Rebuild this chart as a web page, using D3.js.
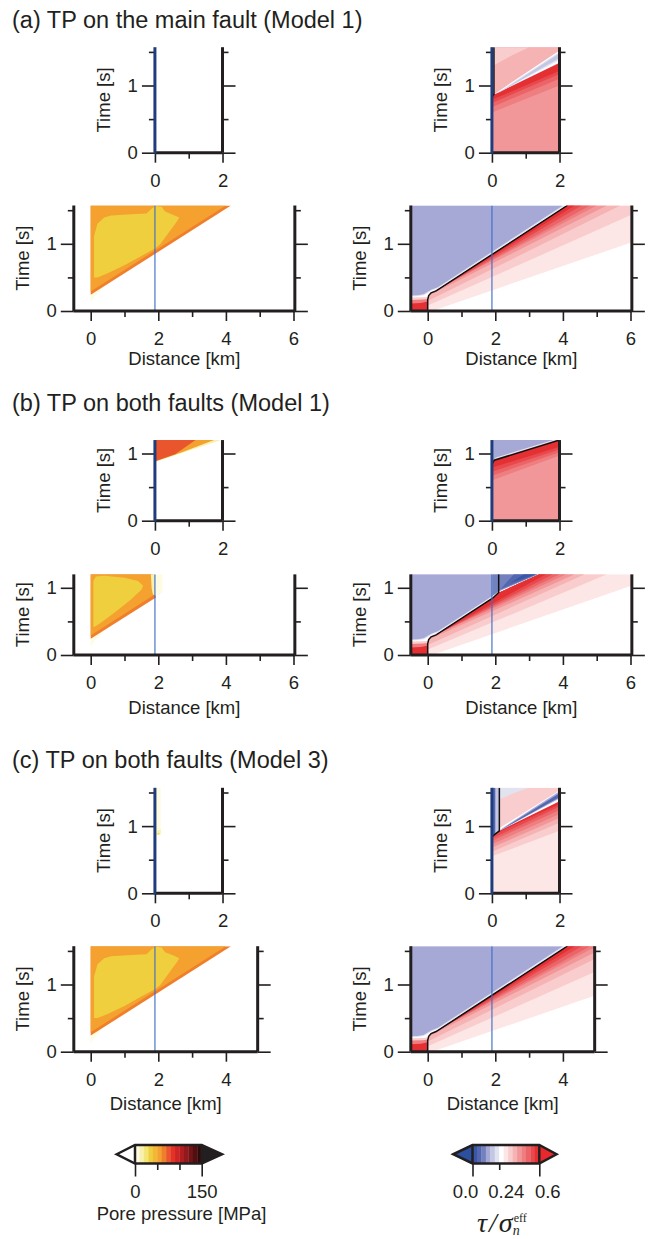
<!DOCTYPE html>
<html>
<head>
<meta charset="utf-8">
<title>TP models</title>
<script src="https://d3js.org/d3.v7.min.js"></script>
<style>
  body { margin: 0; background: #fff; }
  svg text { font-family: "Liberation Sans", Arial, sans-serif; fill: #231f20; }
</style>
</head>
<body>
<script>
// ---- colour levels ----
const ppThresholds = [10, 20, 30, 40, 50, 60, 70, 80, 90, 100, 110, 120, 130, 140];
const ppColors = ['#fdfbe2', '#f8f1ae', '#f3e577', '#efcf3e', '#f2b738', '#f4a12f', '#ef7f2b',
                  '#e9552c', '#e33327', '#cf2424', '#b11e20', '#92191c', '#721416', '#520e10', '#330808'];
const stThresholds = [0.04, 0.08, 0.12, 0.16, 0.2, 0.24, 0.28, 0.32, 0.36, 0.4, 0.44, 0.48, 0.52, 0.56];
const stColors = ['#3a56a5', '#5367b0', '#7481bf', '#a6a9d6', '#c4c7e4', '#e2e3f1', '#ffffff', '#fde6e6',
                  '#f9cdcd', '#f5b3b4', '#f29799', '#ee7e80', '#eb6467', '#e8494d', '#e42f33'];

// ---- ticks ----
const timeMajor = [0, 1];
const timeMinorLong = [0.5, 1.5];
const timeMinorShort = [0.5];
const branchMajor = [0, 2];
const branchMinor = [1];
const mainMajor6 = [0, 2, 4, 6];
const mainMinor6 = [1, 3, 5];
const mainMajor4 = [0, 2, 4];
const mainMinor4 = [1, 3];
const ppBarLong = [0, 150];
const ppBarShort = [50, 100];
const stBarLong = [0.0, 0.6];
const stBarShort = [0.24];

const junction = 1.9; // km, where the branch leaves the main fault

// ---- pore pressure fields [MPa], polygons in (km, s) ----
const ppMainA = [
  {v: 5,  p: [[0, 0.12], [0.08, 0.19], [0.4, 0.37], [0, 0.3]]},
  {v: 65, p: [[0, 0.24], [4.15, 1.57], [0, 1.57]]},
  {v: 55, p: [[0, 0.29], [4.0, 1.57], [0, 1.57]]},
  {v: 35, p: [[0.1, 0.5], [0.1, 1.12], [0.2, 1.3], [0.4, 1.39], [0.6, 1.42], [1.2, 1.44], [1.65, 1.45], [1.8, 1.52],
              [1.9, 1.56], [2.1, 1.55], [2.2, 1.48], [2.45, 1.43], [2.62, 1.39], [2.55, 1.33], [2.3, 1.16],
              [2.05, 0.99], [1.9, 0.93], [1.5, 0.82], [1.0, 0.68], [0.5, 0.56], [0.2, 0.5]]}
];
const ppMainB = [
  {v: 5,  p: [[0, 0.12], [0.08, 0.19], [0.4, 0.37], [0, 0.3]]},
  {v: 65, p: [[0, 0.24], [1.93, 0.855], [1.85, 1.2], [0, 1.2]]},
  {v: 55, p: [[0, 0.29], [1.88, 0.895], [1.8, 1.0], [1.78, 1.2], [0, 1.2]]},
  {v: 15, p: [[1.78, 1.2], [1.9, 1.2], [1.9, 0.89], [1.84, 0.9], [1.8, 1.0]]},
  {v: 5,  p: [[1.9, 1.2], [2.12, 1.2], [2.12, 0.93], [1.9, 0.88]]},
  {v: 35, p: [[0.08, 0.42], [0.08, 1.1], [0.15, 1.17], [0.4, 1.18], [1.0, 1.15], [1.4, 1.1], [1.55, 1.03],
              [1.5, 0.97], [1.2, 0.83], [0.7, 0.63], [0.3, 0.48], [0.12, 0.42]]}
];
const ppMainC = ppMainA;
const ppBranchA = [];
const ppBranchB = [
  {v: 15, p: [[0, 0.875], [1.96, 1.2], [0, 1.2]]},
  {v: 55, p: [[0, 0.88], [0.8, 1.02], [1.75, 1.2], [0, 1.2]]},
  {v: 75, p: [[0, 0.885], [0.6, 0.99], [1.2, 1.2], [0, 1.2]]}
];
const ppBranchC = [
  {v: 5,  p: [[0, 0.87], [0.17, 0.88], [0.17, 1.57], [0, 1.57]]},
  {v: 15, p: [[0.03, 0.87], [0.17, 0.88], [0.17, 0.95], [0.08, 0.94]]},
  {v: 35, p: [[0.05, 0.875], [0.14, 0.88], [0.12, 0.9]]}
];

// ---- stress ratio fields, main fault ----
const stFrontA = [[0, 0], [0, 0.17], [0.03, 0.23], [0.1, 0.27], [0.25, 0.3], [4.13, 1.57]];
// value, start x, start t (on the front), x where the band edge reaches the top
const stBandsA = [
  [0.30, 0.07, -0.01, 9.2], [0.34, 0, 0.08, 6.65], [0.38, 0, 0.15, 5.7], [0.42, 0.03, 0.23, 5.3],
  [0.46, 0.1, 0.27, 5.0], [0.50, 0.18, 0.286, 4.8], [0.54, 0.25, 0.3, 4.55], [0.58, 0.4, 0.349, 4.35]
];
const stFrontB = [[0, 0], [0, 0.17], [0.03, 0.23], [0.1, 0.27], [0.25, 0.3], [1.92, 0.845], [2.12, 0.93], [3.3, 1.2]];
const stLineB = [[0, 0], [0, 0.17], [0.03, 0.23], [0.1, 0.27], [0.25, 0.3], [1.92, 0.845], [2.1, 0.93], [2.1, 1.2]];
const stBandsB = [
  [0.30, 0.07, -0.01, 7.0], [0.34, 0, 0.08, 5.3], [0.38, 0, 0.15, 4.65], [0.42, 0.03, 0.23, 4.35],
  [0.46, 0.1, 0.27, 4.1], [0.50, 0.18, 0.286, 3.9], [0.54, 0.25, 0.3, 3.7], [0.58, 0.4, 0.349, 3.5]
];
const stPatch = [
  {v: 0.34, p: [[-0.5, 0], [0, 0], [0, 0.21], [-0.15, 0.205], [-0.5, 0.2]]},
  {v: 0.46, p: [[-0.5, 0], [0, 0], [0, 0.18], [-0.15, 0.17], [-0.5, 0.165]]},
  {v: 0.58, p: [[-0.5, 0], [0, 0], [0, 0.14], [-0.2, 0.12], [-0.5, 0.11]]}
];
const stLavA = [
  {v: 0.22, p: [[-0.5, 0.215], [-0.3, 0.22], [-0.12, 0.235], [0, 0.265], [0.12, 0.305], [0.3, 0.338], [4.07, 1.57], [-0.5, 1.57]]},
  {v: 0.14, p: [[-0.5, 0.23], [-0.3, 0.235], [-0.12, 0.25], [0, 0.285], [0.12, 0.32], [0.3, 0.355], [4.0, 1.57], [-0.5, 1.57]]}
];
const stLavB = [
  {v: 0.22, p: [[-0.5, 0.215], [-0.3, 0.22], [-0.12, 0.235], [0, 0.265], [0.12, 0.305], [0.3, 0.338], [1.9, 0.86], [1.9, 1.2], [-0.5, 1.2]]},
  {v: 0.14, p: [[-0.5, 0.23], [-0.3, 0.235], [-0.12, 0.25], [0, 0.285], [0.12, 0.32], [0.3, 0.355], [1.9, 0.875], [1.9, 1.2], [-0.5, 1.2]]},
  {v: 0.14, p: [[1.9, 0.875], [2.12, 0.95], [3.28, 1.2], [1.9, 1.2]]},
  {v: 0.10, p: [[1.93, 0.885], [2.12, 0.96], [3.26, 1.2], [1.93, 1.2]]},
  {v: 0.06, p: [[2.15, 0.98], [3.24, 1.2], [2.55, 1.2]]},
  {v: 0.02, p: [[2.45, 1.07], [3.2, 1.2], [2.85, 1.2]]}
];

// ---- stress ratio fields, branch ----
const stBranchA = [
  {v: 0.42, p: [[0, 0], [2, 0], [2, 1.57], [0, 1.57]]},
  {v: 0.46, p: [[0, 0.6], [2, 1.0], [2, 1.36], [0.1, 0.875], [0, 0.87]]},
  {v: 0.50, p: [[0, 0.68], [2, 1.1], [2, 1.36], [0.1, 0.875], [0, 0.87]]},
  {v: 0.54, p: [[0, 0.74], [2, 1.17], [2, 1.35], [0.1, 0.875], [0, 0.87]]},
  {v: 0.58, p: [[0.02, 0.79], [2, 1.22], [2, 1.33], [0.1, 0.872], [0.03, 0.85]]},
  {v: 0.38, p: [[0.06, 0.88], [2, 1.48], [2, 1.57], [0.06, 1.57]]},
  {v: 0.34, p: [[0.06, 1.3], [0.6, 1.45], [1.1, 1.57], [0.06, 1.57]]},
  {v: 0.34, p: [[0, 0.87], [0.06, 0.87], [0.06, 1.57], [0, 1.57]]},
  {v: 0.26, p: [[0.08, 0.87], [2, 1.34], [2, 1.52], [0.1, 0.885]]},
  {v: 0.22, p: [[0.12, 0.878], [2, 1.38], [2, 1.5]]},
  {v: 0.18, p: [[0.2, 0.89], [2, 1.41], [2, 1.48]]}
];
const branchFrontA = [[0.02, 0.84], [0.06, 0.87], [0.06, 1.57]];
const stBranchB = [
  {v: 0.42, p: [[0, 0], [2, 0], [2, 1.2], [0, 1.2]]},
  {v: 0.46, p: [[0, 0.6], [2, 0.97], [2, 1.2], [0.07, 0.9], [0, 0.85]]},
  {v: 0.50, p: [[0, 0.67], [2, 1.02], [2, 1.2], [0.07, 0.9], [0, 0.85]]},
  {v: 0.54, p: [[0, 0.73], [2, 1.06], [2, 1.2], [0.07, 0.9], [0, 0.85]]},
  {v: 0.58, p: [[0, 0.79], [2, 1.1], [2, 1.2], [0.07, 0.9], [0, 0.85]]},
  {v: 0.22, p: [[0, 0.865], [0.07, 0.915], [2, 1.215], [0, 1.215]]},
  {v: 0.14, p: [[0, 0.885], [0.12, 0.94], [1.9, 1.215], [0, 1.215]]}
];
const branchFrontB = [[0, 0.84], [0.07, 0.9], [2, 1.2]];
const stBranchC = [
  {v: 0.30, p: [[0, 0], [2, 0], [2, 1.57], [0, 1.57]]},
  {v: 0.34, p: [[0, 0.55], [2, 0.93], [2, 1.57], [0, 1.57]]},
  {v: 0.38, p: [[0, 0.62], [2, 1.05], [2, 1.4], [0.22, 0.93], [0, 0.86]]},
  {v: 0.42, p: [[0, 0.68], [2, 1.12], [2, 1.4], [0.22, 0.93], [0, 0.86]]},
  {v: 0.46, p: [[0, 0.73], [2, 1.18], [2, 1.4], [0.22, 0.93], [0, 0.86]]},
  {v: 0.50, p: [[0, 0.78], [2, 1.24], [2, 1.4], [0.22, 0.93], [0, 0.86]]},
  {v: 0.54, p: [[0.02, 0.82], [2, 1.29], [2, 1.39], [0.22, 0.93], [0.02, 0.86]]},
  {v: 0.58, p: [[0.15, 0.895], [2, 1.33], [2, 1.38], [0.22, 0.925]]},
  {v: 0.26, p: [[0.22, 0.93], [2, 1.37], [2, 1.53], [0.22, 0.97]]},
  {v: 0.14, p: [[0.24, 0.935], [2, 1.41], [2, 1.52], [0.3, 0.965]]},
  {v: 0.06, p: [[0.26, 0.94], [2, 1.43], [2, 1.49]]},
  {v: 0.22, p: [[0.22, 1.4], [0.5, 1.46], [0.8, 1.52], [1.1, 1.57], [0.22, 1.57]]},
  {v: 0.18, p: [[0, 0.86], [0.22, 0.93], [0.22, 1.57], [0, 1.57]]},
  {v: 0.06, p: [[0, 0.86], [0.1, 0.89], [0.1, 1.57], [0, 1.57]]}
];
const branchFrontC = [[0.02, 0.85], [0.22, 0.93], [0.22, 1.57]];

// build the fan of stress bands ahead of the rupture front
function wedges(front, bands, tTop) {
  return bands.map(b => ({v: b[0], p: [[b[1], b[2]]].concat(front.filter(d => d[1] > b[2]), [[b[3], tTop]])}));
}

const ppColor = d3.scaleThreshold().domain(ppThresholds).range(ppColors);
const stColor = d3.scaleThreshold().domain(stThresholds).range(stColors);

const kx = 33.8, ky = 67.2;
const leftBigX0 = 90.7, rightBigX0 = 427.7;
const ink = '#231f20';

const svg = d3.select('body').append('svg').attr('width', 652).attr('height', 1239);
let clipN = 0;

function styleAxis(a) {
  a.select('.domain').remove();
  a.selectAll('line').attr('stroke', ink).attr('stroke-width', 1.6);
  a.selectAll('text').attr('font-size', 18.5).attr('fill', ink)
    .style('font-family', '"Liberation Sans", Arial, sans-serif');
  return a;
}

function drawPlot(o) {
  const x = d3.scaleLinear().domain(o.xDom).range(o.xDom.map(d => o.x0 + d * kx));
  const y = d3.scaleLinear().domain([0, o.tmax]).range([o.bottom, o.bottom - o.tmax * ky]);
  const g = svg.append('g');
  const id = 'clip' + (clipN++);
  g.append('clipPath').attr('id', id).append('rect')
    .attr('x', x(o.xDom[0])).attr('y', y(o.tmax))
    .attr('width', x(o.xDom[1]) - x(o.xDom[0])).attr('height', y(0) - y(o.tmax));
  const body = g.append('g').attr('clip-path', `url(#${id})`);
  const line = d3.line().x(d => x(d[0])).y(d => y(d[1]));

  o.regions.forEach(r => {
    body.append('path').attr('d', line(r.p) + 'Z').attr('fill', o.color(r.v));
  });
  o.lines.forEach(l => {
    body.append('path').attr('d', line(l.p)).attr('fill', 'none')
      .attr('stroke', l.c).attr('stroke-width', l.w).attr('stroke-opacity', l.o || 1);
  });

  const xl = x(o.xDom[0]), xr = x(o.xDom[1]);
  const yMinor = o.tmax > 1.5 ? timeMinorLong : timeMinorShort;

  // ticks
  styleAxis(g.append('g').attr('transform', `translate(${xl},0)`)
    .call(d3.axisLeft(y).tickValues(timeMajor).tickSize(13).tickPadding(4).tickFormat(d3.format('d'))));
  styleAxis(g.append('g').attr('transform', `translate(${xl},0)`)
    .call(d3.axisLeft(y).tickValues(yMinor).tickSize(6).tickFormat('')));
  styleAxis(g.append('g').attr('transform', `translate(${xr},0)`)
    .call(d3.axisRight(y).tickValues(timeMajor).tickSize(13).tickFormat('')));
  styleAxis(g.append('g').attr('transform', `translate(${xr},0)`)
    .call(d3.axisRight(y).tickValues(yMinor).tickSize(6).tickFormat('')));
  styleAxis(g.append('g').attr('transform', `translate(0,${o.bottom})`)
    .call(d3.axisBottom(x).tickValues(o.xMajor).tickSize(10).tickPadding(11).tickFormat(d3.format('d'))));
  styleAxis(g.append('g').attr('transform', `translate(0,${o.bottom})`)
    .call(d3.axisBottom(x).tickValues(o.xMinor).tickSize(6).tickFormat('')));

  // frame
  const spine = (x1, y1, x2, y2, c) => g.append('line').attr('x1', x1).attr('y1', y1).attr('x2', x2).attr('y2', y2)
    .attr('stroke', c || ink).attr('stroke-width', 3);
  spine(xl, y(0), xr, y(0));
  spine(xr, y(0), xr, y(o.tmax));
  if (o.small) spine(xl, y(0) + 1, xl, y(o.tmax), '#1f3c7c');
  else spine(xl, y(0), xl, y(o.tmax));

  g.append('text').attr('transform', `translate(${xl - 51},${(y(0) + y(o.tmax)) / 2}) rotate(-90)`)
    .attr('text-anchor', 'middle').attr('dy', '0.35em').attr('font-size', 18.5).text('Time [s]');
  if (o.distY) {
    g.append('text').attr('x', (xl + xr) / 2).attr('y', o.distY).attr('text-anchor', 'middle')
      .attr('font-size', 18.5).text('Distance [km]');
  }
}

const rows = [
  {title: '(a) TP on the main fault (Model 1)', titleY: 28, tmax: 1.57, smallBottom: 152.7, bigBottom: 311, distY: 365,
   xmax: 6.04, major: mainMajor6, minor: mainMinor6,
   ppSmall: ppBranchA, ppBig: ppMainA, stSmall: stBranchA, stSmallLine: branchFrontA,
   stBig: wedges(stFrontA, stBandsA, 1.57).concat(stPatch, stLavA), stBigLine: stFrontA},
  {title: '(b) TP on both faults (Model 1)', titleY: 411, tmax: 1.2, smallBottom: 520.7, bigBottom: 655, distY: 714,
   xmax: 6.04, major: mainMajor6, minor: mainMinor6,
   ppSmall: ppBranchB, ppBig: ppMainB, stSmall: stBranchB, stSmallLine: branchFrontB,
   stBig: wedges(stFrontB, stBandsB, 1.2).concat(stPatch, stLavB), stBigLine: stLineB},
  {title: '(c) TP on both faults (Model 3)', titleY: 768, tmax: 1.57, smallBottom: 893.3, bigBottom: 1051.7, distY: 1110,
   xmax: 4.94, major: mainMajor4, minor: mainMinor4,
   ppSmall: ppBranchC, ppBig: ppMainC, stSmall: stBranchC, stSmallLine: branchFrontC,
   stBig: wedges(stFrontA, stBandsA, 1.57).concat(stPatch, stLavA), stBigLine: stFrontA}
];

rows.forEach(r => {
  svg.append('text').attr('x', 12).attr('y', r.titleY).attr('font-size', 23.5).text(r.title);
  const blue = {c: '#3d6cc8', w: 1.6, o: 0.7};
  [[leftBigX0, 'pp'], [rightBigX0, 'st']].forEach(([x0, kind]) => {
    const color = kind === 'pp' ? ppColor : stColor;
    drawPlot({x0: x0 + junction * kx, bottom: r.smallBottom, xDom: [0, 2], tmax: r.tmax, small: true,
      regions: kind === 'pp' ? r.ppSmall : r.stSmall, color,
      lines: kind === 'pp' ? [] : [{p: r.stSmallLine, c: '#111', w: 1.5}],
      xMajor: branchMajor, xMinor: branchMinor});
    const bigLines = [Object.assign({p: [[junction, 0], [junction, r.tmax]]}, blue)];
    if (kind === 'st') bigLines.unshift({p: r.stBigLine, c: '#111', w: 1.5});
    drawPlot({x0: x0, bottom: r.bigBottom, xDom: [-0.5, r.xmax], tmax: r.tmax, small: false,
      regions: kind === 'pp' ? r.ppBig : r.stBig, color, lines: bigLines,
      xMajor: r.major, xMinor: r.minor, distY: r.distY});
  });
});

// ---- colour bars ----
function colorbar(o) {
  const edges = [o.dom[0]].concat(o.thresholds, [o.dom[1]]);
  const s = d3.scaleLinear().domain(o.dom).range([o.x0, o.x1]);
  const g = svg.append('g');
  const y0 = 1145, h = 18.5, ym = y0 + h / 2;
  g.append('path').attr('d', `M${o.apexL},${ym}L${o.x0},${y0}L${o.x0},${y0 + h}Z`).attr('fill', o.lowFill);
  g.append('path').attr('d', `M${o.apexR},${ym}L${o.x1},${y0}L${o.x1},${y0 + h}Z`).attr('fill', o.highFill);
  g.selectAll('rect.band').data(o.colors).join('rect').attr('class', 'band')
    .attr('x', (d, i) => s(edges[i])).attr('y', y0)
    .attr('width', (d, i) => s(edges[i + 1]) - s(edges[i]) + 0.3).attr('height', h).attr('fill', d => d);
  g.append('path').attr('d', `M${o.apexL},${ym}L${o.x0},${y0}L${o.x1},${y0}L${o.apexR},${ym}L${o.x1},${y0 + h}L${o.x0},${y0 + h}Z`)
    .attr('fill', 'none').attr('stroke', ink).attr('stroke-width', 2.5).attr('stroke-linejoin', 'miter');
  g.append('line').attr('x1', o.x0).attr('x2', o.x0).attr('y1', y0).attr('y2', y0 + h).attr('stroke', ink).attr('stroke-width', 2.5);
  g.append('line').attr('x1', o.x1).attr('x2', o.x1).attr('y1', y0).attr('y2', y0 + h).attr('stroke', ink).attr('stroke-width', 2.5);
  const aLong = styleAxis(g.append('g').attr('transform', `translate(0,${y0 + h})`)
    .call(d3.axisBottom(s).tickValues(o.long).tickSize(13).tickPadding(8.4).tickFormat(o.fmt)));
  const aShort = styleAxis(g.append('g').attr('transform', `translate(0,${y0 + h})`)
    .call(d3.axisBottom(s).tickValues(o.short).tickSize(6.5).tickPadding(14.9).tickFormat(o.shortFmt)));
  if (o.longShift) aLong.selectAll('text').attr('dx', (d, i) => o.longShift[i]);
  if (o.shortShift) aShort.selectAll('text').attr('dx', (d, i) => o.shortShift[i]);
}

colorbar({dom: [0, 150], thresholds: ppThresholds, colors: ppColors, x0: 135, x1: 201.7, apexL: 116.7, apexR: 222,
  lowFill: '#ffffff', highFill: ink, long: ppBarLong, short: ppBarShort, fmt: d3.format('d'), shortFmt: ''});
colorbar({dom: [0, 0.6], thresholds: stThresholds, colors: stColors, x0: 472.5, x1: 539.3, apexL: 453.3, apexR: 556.5,
  lowFill: '#2b50a0', highFill: '#e8282c', long: stBarLong, short: stBarShort, fmt: d3.format('.1f'),
  shortFmt: d3.format('.2f'), longShift: [-7.5, 8], shortShift: [6.5]});

svg.append('text').attr('x', 181.5).attr('y', 1220).attr('text-anchor', 'middle').attr('font-size', 18.5)
  .text('Pore pressure [MPa]');

// tau / sigma_n^eff
const serif = '"Liberation Serif", "Times New Roman", serif';
const lab = svg.append('text').attr('x', 477).attr('y', 1232).attr('font-size', 28).attr('font-style', 'italic')
  .style('font-family', serif);
lab.append('tspan').text('τ');
lab.append('tspan').attr('dx', 2).text('/');
lab.append('tspan').attr('dx', 2).text('σ');
lab.append('tspan').attr('dy', 3).attr('font-size', 14).text('n');
lab.append('tspan').attr('dx', -6).attr('dy', -13).attr('font-size', 12).attr('font-style', 'normal').text('eff');
</script>
</body>
</html>
